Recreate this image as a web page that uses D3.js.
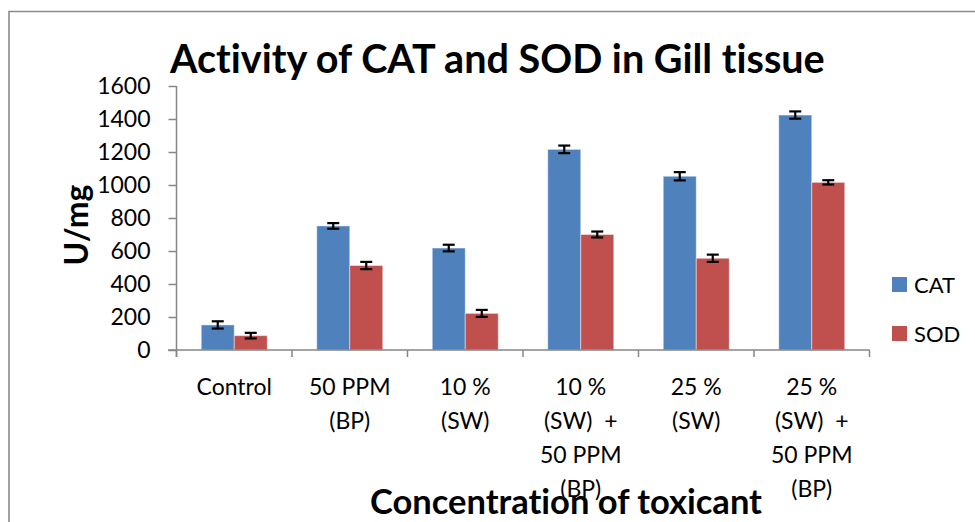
<!DOCTYPE html>
<meta charset="utf-8">
<style>
  body { margin: 0; background: #fff; }
  text { font-family: Lato, "Open Sans", sans-serif; fill: #000; font-variant-ligatures: none; }
  .axis path, .axis line { stroke: #868686; stroke-width: 1.5px; }
  .axis text { font-size: 23px; }
</style>
<script src="https://d3js.org/d3.v7.min.js"></script>
<div id="chart"></div>
<script>

// data
var categories = [
  ["Control"],
  ["50 PPM", "(BP)"],
  ["10 %", "(SW)"],
  ["10 %", "(SW)  +", "50 PPM", "(BP)"],
  ["25 %", "(SW)"],
  ["25 %", "(SW)  +", "50 PPM", "(BP)"]
];
var series = ["CAT", "SOD"];
var catValues = [152, 752, 618, 1216, 1053, 1424];
var sodValues = [87, 512, 222, 700, 556, 1016];
var catErrors = [22, 17, 20, 23, 25, 22];
var sodErrors = [17, 22, 21, 18, 22, 13];
var yTicks = [0, 200, 400, 600, 800, 1000, 1200, 1400, 1600];
var colors = ["#4F81BD", "#C0504D"];

var width = 975, height = 522;

var svg = d3.select("#chart").append("svg")
    .attr("width", width)
    .attr("height", height);

svg.append("rect")
    .attr("width", width)
    .attr("height", height)
    .attr("fill", "white");

// frame of the picture
svg.append("path")
    .attr("d", "M9," + height + "V11.5H" + width)
    .attr("fill", "none")
    .attr("stroke", "#8a8a8a")
    .attr("stroke-width", 1.6);

var keys = categories.map(function(d, i) { return i; });

var x0 = d3.scaleBand()
    .domain(keys)
    .range([176.5, 869.5]);

var x1 = d3.scaleBand()
    .domain(series)
    .range([0, x0.bandwidth()])
    .paddingOuter(0.75);

var y = d3.scaleLinear()
    .domain([0, 1600])
    .range([350, 86]);

var rows = keys.map(function(i) {
  return [
    { s: "CAT", v: catValues[i], e: catErrors[i], c: colors[0] },
    { s: "SOD", v: sodValues[i], e: sodErrors[i], c: colors[1] }
  ];
});

// y axis
svg.append("g")
    .attr("class", "axis")
    .attr("transform", "translate(176.5,0)")
    .call(d3.axisLeft(y).tickValues(yTicks).tickFormat(d3.format("d"))
      .tickSize(8).tickSizeOuter(0).tickPadding(18))
    .call(function(g) { g.select(".domain").attr("d", "M0,86V357"); });

// bars
var groups = svg.append("g").selectAll("g")
    .data(rows)
  .enter().append("g")
    .attr("transform", function(d, i) { return "translate(" + x0(i) + ",0)"; });

groups.selectAll("rect")
    .data(function(d) { return d; })
  .enter().append("rect")
    .attr("x", function(d) { return x1(d.s); })
    .attr("y", function(d) { return y(d.v); })
    .attr("width", x1.bandwidth())
    .attr("height", function(d) { return y(0) - y(d.v); })
    .attr("fill", function(d) { return d.c; })
    .attr("stroke", "rgba(255,255,255,0.45)")
    .attr("stroke-width", 1);

// error bars
var err = groups.selectAll(".err")
    .data(function(d) { return d; })
  .enter().append("g")
    .attr("class", "err")
    .attr("stroke", "#000")
    .attr("stroke-width", 2.2);

err.append("line")
    .attr("x1", function(d) { return x1(d.s) + x1.bandwidth() / 2; })
    .attr("x2", function(d) { return x1(d.s) + x1.bandwidth() / 2; })
    .attr("y1", function(d) { return y(d.v + d.e); })
    .attr("y2", function(d) { return y(d.v - d.e); });

[1, -1].forEach(function(sign) {
  err.append("line")
      .attr("x1", function(d) { return x1(d.s) + x1.bandwidth() / 2 - 6; })
      .attr("x2", function(d) { return x1(d.s) + x1.bandwidth() / 2 + 6; })
      .attr("y1", function(d) { return y(d.v + sign * d.e); })
      .attr("y2", function(d) { return y(d.v + sign * d.e); });
});

// x axis with ticks between categories
var xAxis = svg.append("g").attr("class", "axis");
xAxis.append("line")
    .attr("x1", 168).attr("x2", x0.range()[1])
    .attr("y1", y(0)).attr("y2", y(0));
xAxis.selectAll(".sep")
    .data(keys.concat([keys.length]))
  .enter().append("line")
    .attr("class", "sep")
    .attr("x1", function(i) { return x0.range()[0] + i * x0.step(); })
    .attr("x2", function(i) { return x0.range()[0] + i * x0.step(); })
    .attr("y1", y(0)).attr("y2", y(0) + 7);

var labels = svg.append("g").selectAll("text")
    .data(categories)
  .enter().append("text")
    .attr("text-anchor", "middle")
    .attr("font-size", 23)
    .attr("transform", function(d, i) { return "translate(" + (x0(i) + x0.bandwidth() / 2) + ",395)"; });

labels.selectAll("tspan")
    .data(function(d) { return d; })
  .enter().append("tspan")
    .attr("x", 0)
    .attr("y", function(d, j) { return j * 34; })
    .style("white-space", "pre")
    .text(function(d) { return d; });

// titles
var title = svg.append("text")
    .attr("x", 170)
    .attr("y", 73)
    .attr("font-size", 36)
    .attr("font-weight", "bold")
    .text("Activity of CAT and SOD in Gill tissue");
title.attr("font-size", 36 * 655 / title.node().getComputedTextLength());

var xTitle = svg.append("text")
    .attr("x", 566)
    .attr("y", 514)
    .attr("text-anchor", "middle")
    .attr("font-size", 30)
    .attr("font-weight", "bold")
    .text("Concentration of toxicant");
xTitle.attr("font-size", 30 * 392 / xTitle.node().getComputedTextLength());

svg.append("text")
    .attr("transform", "translate(88,225) rotate(-90)")
    .attr("text-anchor", "middle")
    .attr("font-size", 32)
    .attr("font-weight", "bold")
    .text("U/mg");

// legend
var legend = svg.append("g").selectAll("g")
    .data(series)
  .enter().append("g")
    .attr("transform", function(d, i) { return "translate(892," + (277 + i * 49) + ")"; });

legend.append("rect")
    .attr("width", 15)
    .attr("height", 15)
    .attr("fill", function(d, i) { return colors[i]; });

legend.append("text")
    .attr("x", 22)
    .attr("y", 16)
    .attr("font-size", 22)
    .text(function(d) { return d; });

</script>
